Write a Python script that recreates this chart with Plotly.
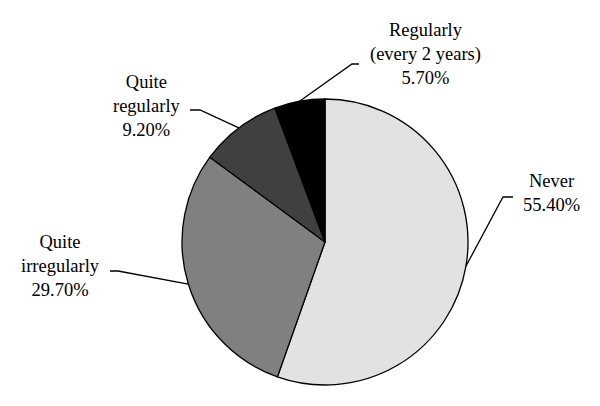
import math
import plotly.graph_objects as go

# Data
categories = ["Never", "Quite irregularly", "Quite regularly", "Regularly (every 2 years)"]
values = [55.4, 29.7, 9.2, 5.7]
label_texts = ["Never<br>55.40%", "Quite<br>irregularly<br>29.70%",
               "Quite<br>regularly<br>9.20%", "Regularly<br>(every 2 years)<br>5.70%"]
colors = ["#e2e2e2", "#808080", "#404040", "#000000"]

W, H = 600, 406
CX, CY, R = 325, 242, 143

# label layout (pixels): text center, elbow point, stub end
text_pos = [(551, 193), (60, 266), (147, 106), (425, 54)]
elbow_pos = [(503, 197), (118, 271), (200, 110), (352, 64)]
stub_end = [(513, 197), (110, 271), (190, 110), (359, 64)]

def px(x):
    return x / W

def py(y):
    return 1 - y / H

fig = go.Figure(go.Pie(
    labels=categories, values=values, sort=False, direction="clockwise", rotation=0,
    marker=dict(colors=colors, line=dict(color="#000000", width=1.3)),
    textinfo="none", hoverinfo="skip", showlegend=False,
    domain=dict(x=[px(CX - R), px(CX + R)], y=[py(CY + R), py(CY - R)]),
))

total = sum(values)
cum = 0
shapes = []
annotations = []
for i, v in enumerate(values):
    mid = (cum + v / 2) / total * 360
    cum += v
    ang = math.radians(90 - mid)
    sx = CX + R * math.cos(ang)
    sy = CY - R * math.sin(ang)
    ex, ey = elbow_pos[i]
    tx, ty = stub_end[i]
    shapes.append(dict(
        type="path", xref="paper", yref="paper",
        path=f"M {px(sx)} {py(sy)} L {px(ex)} {py(ey)} L {px(tx)} {py(ty)}",
        line=dict(color="#000000", width=1.3),
    ))
    annotations.append(dict(
        x=px(text_pos[i][0]), y=py(text_pos[i][1]), xref="paper", yref="paper",
        text=label_texts[i], showarrow=False, xanchor="center", yanchor="middle",
        align="center", font=dict(family="Liberation Serif", size=18.5, color="#000000"),
    ))

fig.update_layout(
    width=W, height=H, margin=dict(l=0, r=0, t=0, b=0),
    paper_bgcolor="#ffffff", plot_bgcolor="#ffffff",
    shapes=shapes, annotations=annotations,
)

fig.write_html("out.html", config={"displayModeBar": False},
               post_script="document.body.style.margin='0px';")
